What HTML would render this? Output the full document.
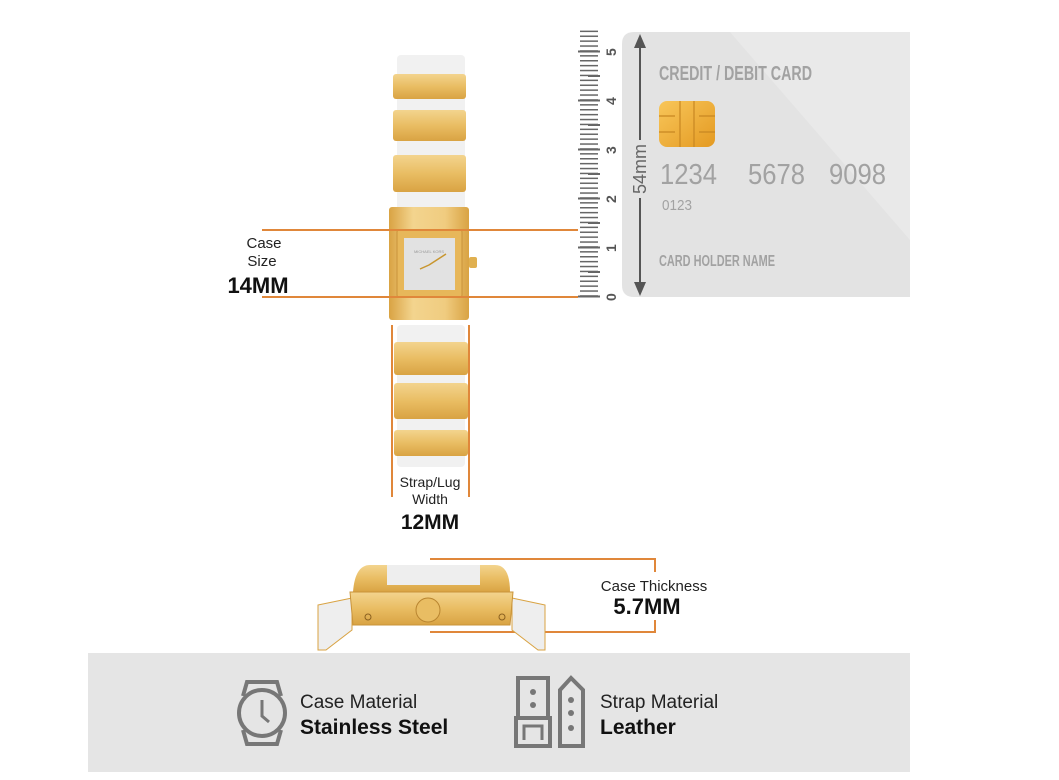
<!DOCTYPE html>
<html><head><meta charset="utf-8"><style>
html,body{margin:0;padding:0;background:#fff;width:1059px;height:780px;overflow:hidden}
svg{display:block}
text{font-family:"Liberation Sans",sans-serif}
.c{fill:#a2a2a2;font-weight:bold}
</style></head><body>
<svg width="1059" height="780" viewBox="0 0 1059 780" xmlns="http://www.w3.org/2000/svg">
<defs>
<linearGradient id="g" x1="0" x2="0" y1="0" y2="1"><stop offset="0" stop-color="#f3d48e"/><stop offset="0.5" stop-color="#e9bd63"/><stop offset="1" stop-color="#d9a343"/></linearGradient>
<linearGradient id="gh" x1="0" x2="1" y1="0" y2="0"><stop offset="0" stop-color="#d9a343"/><stop offset="0.3" stop-color="#f3d48e"/><stop offset="0.7" stop-color="#f0cc80"/><stop offset="1" stop-color="#d9a343"/></linearGradient>
<linearGradient id="chip" x1="0" x2="1" y1="0" y2="1"><stop offset="0" stop-color="#f8c65a"/><stop offset="1" stop-color="#e49a22"/></linearGradient>
<pattern id="tk" x="0" y="1.2" width="40" height="4.9" patternUnits="userSpaceOnUse">
<rect x="20" y="0" width="18" height="1.5" fill="#666"/>
</pattern>
</defs>
<!-- card -->
<path d="M634 32 H910 V297 H634 Q622 297 622 285 V44 Q622 32 634 32Z" fill="#e3e3e3"/>
<path d="M730 32 H910 V240 Z" fill="#e9e9e9"/>
<text class="c" x="659" y="80" font-size="20" textLength="153" lengthAdjust="spacingAndGlyphs">CREDIT / DEBIT CARD</text>
<rect x="659" y="101" width="56" height="46" rx="8" fill="url(#chip)"/>
<path d="M659 116 H675 M659 132 H675 M699 116 H715 M699 132 H715 M680 101 V147 M694 101 V147" stroke="#c88722" stroke-width="1.2" fill="none"/>
<text class="c" x="660" y="184" font-size="29" style="font-weight:normal" textLength="57" lengthAdjust="spacingAndGlyphs">1234</text>
<text class="c" x="748" y="184" font-size="29" style="font-weight:normal" textLength="57" lengthAdjust="spacingAndGlyphs">5678</text>
<text class="c" x="829" y="184" font-size="29" style="font-weight:normal" textLength="57" lengthAdjust="spacingAndGlyphs">9098</text>
<text class="c" x="662" y="210" font-size="15" style="font-weight:normal" textLength="30" lengthAdjust="spacingAndGlyphs">0123</text>
<text class="c" x="659" y="266" font-size="16" textLength="116" lengthAdjust="spacingAndGlyphs">CARD HOLDER NAME</text>
<!-- 54mm arrow -->
<path d="M640 38 V140 M640 198 V292" stroke="#555" stroke-width="2"/>
<path d="M634 48 L640 34 L646 48Z M634 282 L640 296 L646 282Z" fill="#555"/>
<text x="0" y="0" font-size="18" fill="#666" transform="translate(646,194) rotate(-90)">54mm</text>
<!-- ruler -->
<rect x="578" y="30" width="40" height="268" fill="url(#tk)"/>
<g stroke="#666" stroke-width="2">
<line x1="578" x2="600" y1="296.5" y2="296.5"/><line x1="578" x2="600" y1="247.5" y2="247.5"/><line x1="578" x2="600" y1="198.5" y2="198.5"/><line x1="578" x2="600" y1="149.5" y2="149.5"/><line x1="578" x2="600" y1="100.5" y2="100.5"/><line x1="578" x2="600" y1="51.5" y2="51.5"/>
<line x1="588" x2="600" y1="272" y2="272"/><line x1="588" x2="600" y1="223" y2="223"/><line x1="588" x2="600" y1="174" y2="174"/><line x1="588" x2="600" y1="125" y2="125"/><line x1="588" x2="600" y1="76" y2="76"/>
</g>
<g font-size="14" fill="#555" font-weight="bold">
<text transform="translate(616,301) rotate(-90)">0</text>
<text transform="translate(616,252) rotate(-90)">1</text>
<text transform="translate(616,203) rotate(-90)">2</text>
<text transform="translate(616,154) rotate(-90)">3</text>
<text transform="translate(616,105) rotate(-90)">4</text>
<text transform="translate(616,56) rotate(-90)">5</text>
</g>
<!-- upper strap -->
<rect x="397" y="55" width="68" height="160" rx="4" fill="#f1f1f1"/>
<rect x="393" y="74" width="73" height="25" rx="3" fill="url(#g)"/>
<rect x="393" y="110" width="73" height="31" rx="3" fill="url(#g)"/>
<rect x="393" y="155" width="73" height="37" rx="3" fill="url(#g)"/>
<!-- case -->
<rect x="389" y="207" width="80" height="113" rx="3" fill="url(#gh)"/>
<rect x="397" y="230" width="65" height="67" rx="2" fill="#e7b75a" stroke="#c9933a"/>
<rect x="404" y="238" width="51" height="52" fill="#e2e2e2"/>
<text x="429" y="253" font-size="4" fill="#999" text-anchor="middle">MICHAEL KORS</text>
<path d="M429 265 L420 269 M429 265 L446 254" stroke="#c8962f" stroke-width="1.5"/>
<rect x="469" y="257" width="8" height="11" rx="2" fill="#e0b050"/>
<!-- lower strap -->
<rect x="397" y="325" width="68" height="142" rx="4" fill="#f1f1f1"/>
<rect x="394" y="342" width="74" height="33" rx="3" fill="url(#g)"/>
<rect x="394" y="383" width="74" height="36" rx="3" fill="url(#g)"/>
<rect x="394" y="430" width="74" height="26" rx="3" fill="url(#g)"/>
<!-- orange guides -->
<g stroke="#e0873a" stroke-width="2" fill="none">
<path d="M262 230 H578 M262 297 H578"/>
<path d="M392 325 V497 M469 325 V497"/>
<path d="M430 559 H655 V572 M430 632 H655 V620"/>
</g>
<text x="264" y="248" font-size="15" fill="#222" text-anchor="middle">Case</text>
<text x="262" y="266" font-size="15" fill="#222" text-anchor="middle">Size</text>
<text x="258" y="293" font-size="22" fill="#111" font-weight="bold" text-anchor="middle">14MM</text>
<text x="430" y="487" font-size="14" fill="#222" text-anchor="middle">Strap/Lug</text>
<text x="430" y="504" font-size="14" fill="#222" text-anchor="middle">Width</text>
<text x="430" y="529" font-size="21" fill="#111" font-weight="bold" text-anchor="middle">12MM</text>
<!-- side view -->
<path d="M318 605 L352 598 L352 630 L326 650 L318 650Z" fill="#eee" stroke="#d9a343"/>
<path d="M545 605 L512 598 L512 630 L538 650 L545 650Z" fill="#eee" stroke="#d9a343"/>
<path d="M353 592 Q355 565 370 565 H495 Q510 565 510 592Z" fill="url(#g)"/>
<rect x="387" y="565" width="93" height="20" fill="#eee"/>
<path d="M350 592 H513 L510 625 H353Z" fill="url(#g)" stroke="#c9933a"/>
<circle cx="428" cy="610" r="12" fill="#e9bd63" stroke="#b98530"/>
<circle cx="368" cy="617" r="3" fill="none" stroke="#8a6020"/>
<circle cx="502" cy="617" r="3" fill="none" stroke="#8a6020"/>
<text x="654" y="591" font-size="15" fill="#222" text-anchor="middle">Case Thickness</text>
<text x="647" y="614" font-size="22" fill="#111" font-weight="bold" text-anchor="middle">5.7MM</text>
<!-- bottom bar -->
<rect x="88" y="653" width="822" height="119" fill="#e5e5e5"/>
<g stroke="#777" stroke-width="4" fill="none">
<circle cx="262" cy="713" r="23"/>
<path d="M243 696 L247 682 H277 L281 696 M243 730 L247 744 H277 L281 730"/>
<path d="M262 700 V716 L269 722" stroke-width="3"/>
<rect x="518" y="678" width="30" height="40"/>
<rect x="516" y="718" width="34" height="28"/>
<path d="M524 740 V726 H542 V740" stroke-width="3"/>
<path d="M560 746 V690 L571 678 L583 690 V746Z"/>
</g>
<g fill="#777"><circle cx="533" cy="692" r="3"/><circle cx="533" cy="705" r="3"/><circle cx="571" cy="700" r="3"/><circle cx="571" cy="713" r="3"/><circle cx="571" cy="728" r="3"/></g>
<text x="300" y="708" font-size="19" fill="#222">Case Material</text>
<text x="300" y="734" font-size="21" fill="#111" font-weight="bold">Stainless Steel</text>
<text x="600" y="708" font-size="19" fill="#222">Strap Material</text>
<text x="600" y="734" font-size="21" fill="#111" font-weight="bold">Leather</text>
</svg>
</body></html>
